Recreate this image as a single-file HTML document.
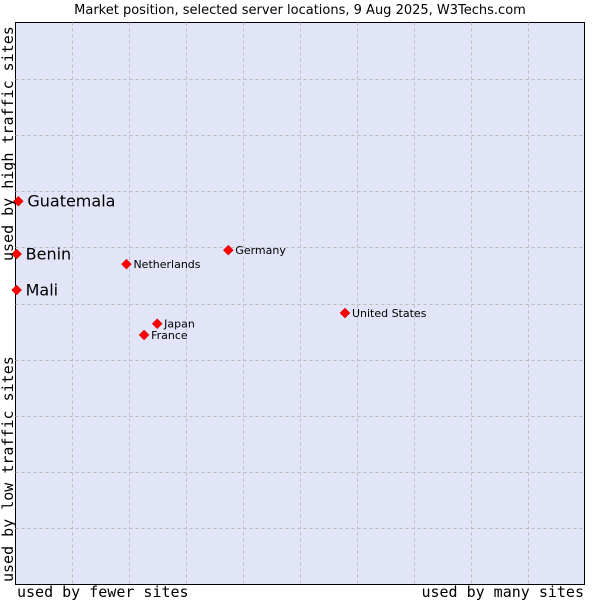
<!DOCTYPE html>
<html><head><meta charset="utf-8"><style>
body{margin:0;background:#fff;}
svg{display:block;}
</style></head><body>
<svg id="chart" width="600" height="600" xmlns="http://www.w3.org/2000/svg">
<text x="300" y="14" text-anchor="middle" font-family="DejaVu Sans, sans-serif" font-size="13" fill="#000">Market position, selected server locations, 9 Aug 2025, W3Techs.com</text>
<rect x="15.5" y="22.5" width="569" height="562" fill="#e2e4f8" stroke="#000" stroke-width="1"/>
<g id="grid"></g>
<g id="points"></g>
<text x="17" y="597" font-family="DejaVu Sans Mono, Liberation Mono, monospace" font-size="15">used by fewer sites</text>
<text x="584" y="597" text-anchor="end" font-family="DejaVu Sans Mono, Liberation Mono, monospace" font-size="15">used by many sites</text>
<text transform="translate(13,261) rotate(-90)" font-family="DejaVu Sans Mono, Liberation Mono, monospace" font-size="15">used by high traffic sites</text>
<text transform="translate(13,582) rotate(-90)" font-family="DejaVu Sans Mono, Liberation Mono, monospace" font-size="15">used by low traffic sites</text>
</svg>
<script>
const names = ["Guatemala","Benin","Mali","Netherlands","Germany","Japan","France","United States"];
const xValues = [0.5,0.2,0.2,19.5,37.4,24.9,22.6,57.9];
const yValues = [68.2,58.8,52.4,57.0,59.5,46.4,44.4,48.3];
const highlighted = [true,true,true,false,false,false,false,false];
const L=15.5,R=584.5,T=22.5,B=584.5;
const xs=v=>L+(R-L)*v/100, ys=v=>B-(B-T)*v/100;
const NS="http://www.w3.org/2000/svg";
const grid=document.getElementById('grid');
for(let i=1;i<10;i++){
  let l=document.createElementNS(NS,'line');
  
  
  const x=Math.round(xs(i*10))+0.5;
  l.setAttribute('x1',x);l.setAttribute('x2',x);l.setAttribute('y1',T);l.setAttribute('y2',B);
  l.setAttribute('stroke','#bdbdbd');l.setAttribute('stroke-dasharray','3,3');
  grid.appendChild(l);
  let h=document.createElementNS(NS,'line');
  
  
  const y=Math.round(ys(i*10))+0.5;
  h.setAttribute('x1',L);h.setAttribute('x2',R);h.setAttribute('y1',y);h.setAttribute('y2',y);
  h.setAttribute('stroke','#bdbdbd');h.setAttribute('stroke-dasharray','3,3');
  grid.appendChild(h);
}
const pts=document.getElementById('points');
names.forEach((n,i)=>{
  const x=xs(xValues[i]), y=ys(yValues[i]);
  const d=document.createElementNS(NS,'path');
  
  
  d.setAttribute('d',`M${x} ${y-5}L${x+5} ${y}L${x} ${y+5}L${x-5} ${y}Z`);
  d.setAttribute('fill','#ff0000');d.setAttribute('stroke','#c00000');d.setAttribute('stroke-width','0.5');
  pts.appendChild(d);
  const t=document.createElementNS(NS,'text');
  
  
  const big=highlighted[i];
  t.setAttribute('x',x+(big?9:7));t.setAttribute('y',y+(big?5.5:4));
  t.setAttribute('font-family','DejaVu Sans, sans-serif');
  t.setAttribute('font-size',big?16:11);
  t.textContent=n;
  pts.appendChild(t);
});
</script>
</body></html>
